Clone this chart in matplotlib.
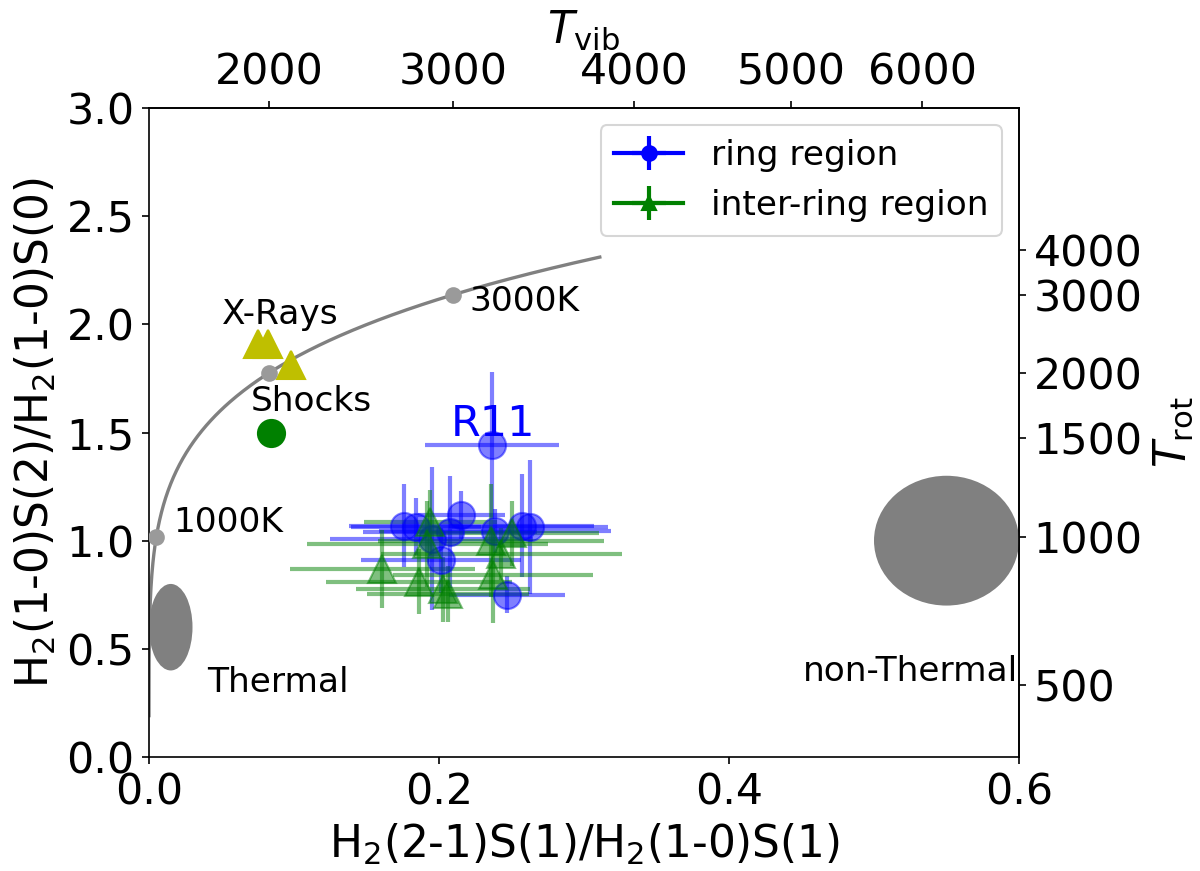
import numpy as np
import matplotlib.pyplot as plt
from matplotlib.patches import Ellipse

# LTE line ratios as a function of temperature
# 2-1 S(1) / 1-0 S(1)  (vibrational)
VIB_C, VIB_DE = 1.355, 5594.0
# 1-0 S(2) / 1-0 S(0)  (rotational)
ROT_C, ROT_DE = 3.098, 1114.0

# thermal curve temperatures and marked temperatures
curve_T = np.linspace(400, 3800, 300)
mark_T = [1000, 2000, 3000]
mark_labels = ["1000K", "", "3000K"]

# ring region: x, y, xerr, yerr
ring_x = [0.176, 0.184, 0.195, 0.2076, 0.2152, 0.2014, 0.2386, 0.257, 0.2628, 0.2467, 0.2365]
ring_y = [1.07, 1.065, 1.01, 1.04, 1.12, 0.91, 1.045, 1.07, 1.065, 0.75, 1.44]
ring_xerr = [0.038, 0.045, 0.07, 0.06, 0.03, 0.055, 0.08, 0.05, 0.054, 0.04, 0.046]
ring_yerr = [0.19, 0.13, 0.33, 0.26, 0.11, 0.15, 0.10, 0.24, 0.31, 0.085, 0.34]

# inter-ring region
inter_x = [0.161, 0.186, 0.194, 0.192, 0.203, 0.206, 0.2356, 0.250, 0.243, 0.237]
inter_y = [0.87, 0.81, 1.085, 0.985, 0.775, 0.755, 1.0, 1.034, 0.94, 0.84]
inter_xerr = [0.064, 0.064, 0.046, 0.083, 0.06, 0.056, 0.078, 0.06, 0.083, 0.069]
inter_yerr = [0.18, 0.15, 0.15, 0.20, 0.15, 0.13, 0.26, 0.15, 0.12, 0.22]

# model predictions
xray_x = [0.075, 0.082, 0.098]
xray_y = [1.91, 1.91, 1.81]
shock_x = [0.084]
shock_y = [1.50]


def vib_ratio(T):
    return VIB_C * np.exp(-VIB_DE / np.asarray(T, dtype=float))


def vib_temp(x):
    x = np.clip(np.asarray(x, dtype=float), 1e-6, VIB_C * 0.999)
    return -VIB_DE / np.log(x / VIB_C)


def rot_ratio(T):
    return ROT_C * np.exp(-ROT_DE / np.asarray(T, dtype=float))


def rot_temp(y):
    y = np.clip(np.asarray(y, dtype=float), 1e-6, ROT_C * 0.999)
    return -ROT_DE / np.log(y / ROT_C)


plt.rcParams['font.size'] = 20.5
plt.rcParams['axes.labelsize'] = 21

fig = plt.figure(figsize=(8, 871 / 150), dpi=150)
ax = fig.add_axes([149 / 1200, 1 - 757 / 871, 870 / 1200, 649 / 871])

# thermal curve
ax.plot(vib_ratio(curve_T), rot_ratio(curve_T), color="grey", lw=1.6, zorder=2)
ax.plot(vib_ratio(mark_T), rot_ratio(mark_T), "o", color="#9a9a9a", ms=7, zorder=3)
ax.text(0.017, 1.04, mark_labels[0], fontsize=16.5)
ax.text(0.221, 2.06, mark_labels[2], fontsize=16.5)

# thermal / non-thermal regions
ax.add_patch(Ellipse((0.015, 0.6), 0.03, 0.4, color="grey", lw=0))
ax.add_patch(Ellipse((0.55, 1.0), 0.1, 0.6, color="grey", lw=0))
ax.text(0.04, 0.30, "Thermal", fontsize=16.5)
ax.text(0.451, 0.35, "non-Thermal", fontsize=16.5)

# models
ax.plot(xray_x, xray_y, "^", color="y", ms=13)
ax.plot(shock_x, shock_y, "o", color="g", ms=13)
ax.text(0.05, 2.0, "X-Rays", fontsize=16.5)
ax.text(0.07, 1.6, "Shocks", fontsize=16.5)

# observations
ax.errorbar(ring_x, ring_y, xerr=ring_xerr, yerr=ring_yerr, fmt="o", color="b",
            ms=13, elinewidth=2, alpha=0.5, lw=0)
ax.errorbar(inter_x, inter_y, xerr=inter_xerr, yerr=inter_yerr, fmt="^", color="g",
            ms=13, elinewidth=2, alpha=0.5, lw=0)
ax.text(0.208, 1.485, "R11", color="b", fontsize=20.5)

# legend proxies (not visible in the axes)
h1 = ax.errorbar([np.nan], [np.nan], xerr=[0.01], yerr=[0.01], fmt="o-", color="b",
                 ms=7, lw=2, elinewidth=2)
h2 = ax.errorbar([np.nan], [np.nan], xerr=[0.01], yerr=[0.01], fmt="^-", color="g",
                 ms=7, lw=2, elinewidth=2)
ax.legend([h1, h2], ["ring region", "inter-ring region"], loc="upper right",
          fontsize=16.5)

ax.set_xlim(0, 0.6)
ax.set_ylim(0, 3.0)
ax.set_xticks([0.0, 0.2, 0.4, 0.6])
ax.set_yticks([0.0, 0.5, 1.0, 1.5, 2.0, 2.5, 3.0])
ax.set_xlabel(r"H$_2$(2-1)S(1)/H$_2$(1-0)S(1)")
ax.set_ylabel(r"H$_2$(1-0)S(2)/H$_2$(1-0)S(0)")

top = ax.secondary_xaxis("top", functions=(vib_temp, vib_ratio))
top.set_xticks([2000, 3000, 4000, 5000, 6000])
top.set_xlabel(r"$T_{\rm vib}$")

right = ax.secondary_yaxis("right", functions=(rot_temp, rot_ratio))
right.set_yticks([500, 1000, 1500, 2000, 3000, 4000])
right.set_ylabel(r"$T_{\rm rot}$")

fig.savefig("out.png", dpi=150)
